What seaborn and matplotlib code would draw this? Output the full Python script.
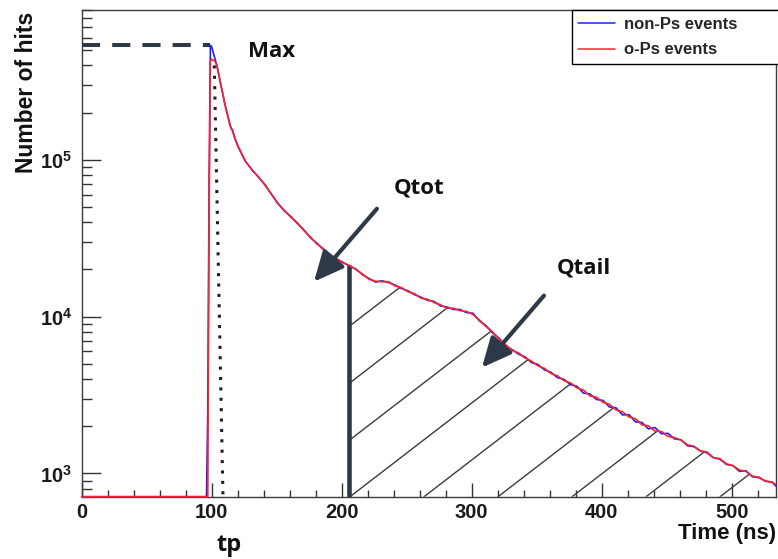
import numpy as np
import pandas as pd
import matplotlib
matplotlib.use("Agg")
import matplotlib.pyplot as plt
import matplotlib.transforms as mtransforms
from matplotlib.lines import Line2D
from matplotlib.ticker import LogLocator, NullFormatter, MultipleLocator
import seaborn as sns

# ---------------------------------------------------------------------------
# Data: hit-time spectra (counts per bin) for the two event classes
# ---------------------------------------------------------------------------
NONPS = "non-Ps events"
OPS = "o-Ps events"

# 1 ns bins over the prompt peak (t = 0 starts the empty pre-trigger region)
time_head = [0, 96, 97, 98, 99, 100, 101, 102, 103, 104, 105, 106, 107, 108,
             109, 110, 111, 112, 113, 114, 115, 116, 117, 118, 119, 120, 121]
nonps_head = [0, 0, 2500, 70800, 537000, 525000, 490000, 457000, 427000,
              398000, 363000, 331000, 302000, 275000, 251000, 229000, 212000,
              196000, 181000, 167000, 158000, 156000, 144000, 135000, 129000,
              123000, 118000]
ops_head = [0, 0, 0, 45000, 425000, 438000, 432000, 428000, 418000, 400000,
            366000, 334000, 300000, 278000, 254000, 231000, 210000, 198000,
            183000, 169000, 160000, 152000, 145000, 137000, 130000, 124000,
            119000]

# 5 ns bins along the slow tail
time_tail = list(range(126, 532, 5)) + [534]
nonps_tail = [97500, 86500, 77300, 69500, 60100, 52800, 47100, 43400, 39200, 35700,
              31800, 29400, 26700, 24900, 23300, 22200, 21000, 20100, 18500, 17500,
              16600, 16900, 16500, 15900, 15100, 14600, 13800, 13300, 12700, 12500,
              11700, 11500, 11100, 11100, 10600, 10500, 9380, 8760, 7880, 7300,
              6520, 6170, 5760, 5540, 5090, 4950, 4570, 4410, 4080, 3980,
              3680, 3590, 3250, 3210, 2960, 2920, 2650, 2620, 2360, 2370,
              2130, 2110, 1920, 1960, 1790, 1800, 1660, 1640, 1500, 1480,
              1390, 1350, 1260, 1230, 1140, 1120, 1030, 1040, 950, 940,
              890, 880, 830]
ops_tail = [98000, 86000, 77900, 69000, 60500, 52300, 47500, 43000, 39600, 35300,
            32200, 29000, 27100, 24700, 23500, 22000, 21200, 19900, 18700, 17300,
            16800, 16700, 16700, 15700, 15300, 14400, 14000, 13100, 12900, 12300,
            11900, 11300, 11300, 10900, 10800, 10300, 9500, 8650, 8000, 7180,
            6640, 6080, 5870, 5450, 5200, 4850, 4680, 4330, 4190, 3900,
            3780, 3510, 3400, 3120, 3060, 2840, 2760, 2540, 2470, 2290,
            2230, 2040, 2010, 1860, 1850, 1720, 1690, 1630, 1520, 1490,
            1390, 1370, 1260, 1240, 1150, 1120, 1050, 1030, 960, 945,
            895, 880, 850]

T_CUT = 206            # start of the Qtail integration window (ns)
TP_TOP = (102, 4.0e5)  # upper end of the peak-time marker
TP_BOTTOM_T = 108.7    # lower end of the peak-time marker (ns)

Y_MIN, Y_MAX = 710, 9.02e5
X_MIN, X_MAX = 0, 534.1

SLATE = "#2e3948"
BLUE = "#1f1fff"
RED = "#ff2424"

# ---------------------------------------------------------------------------
# Long-form table for seaborn
# ---------------------------------------------------------------------------
frames = []
for name, head, tail in [(NONPS, nonps_head, nonps_tail), (OPS, ops_head, ops_tail)]:
    frames.append(pd.DataFrame({"time": time_head + time_tail,
                                "hits": head + tail,
                                "kind": name}))
df = pd.concat(frames, ignore_index=True)
# empty bins sit on the lower edge of the log axis
df["shown"] = df["hits"].clip(lower=Y_MIN)

# ---------------------------------------------------------------------------
# Styling
# ---------------------------------------------------------------------------
sns.set_theme(style="ticks")
plt.rcParams.update({
    "font.family": ["Liberation Sans", "DejaVu Sans"],
    "font.weight": "bold",
    "axes.edgecolor": "#3a3a3a",
    "axes.linewidth": 1.0,
    "mathtext.fontset": "custom",
    "mathtext.rm": "Liberation Sans:bold",
    "mathtext.bf": "Liberation Sans:bold",
    "mathtext.it": "Liberation Sans:bold",
})
ANNOT_FONT = ["Open Sans", "DejaVu Sans"]

fig = plt.figure(figsize=(7.78, 5.59), dpi=100)
ax = fig.add_axes([0.10501, 0.11145, 0.89242, 0.87066])
ax.set_yscale("log")

sns.lineplot(data=df, x="time", y="shown", hue="kind", hue_order=[NONPS, OPS],
             palette={NONPS: BLUE, OPS: RED}, estimator=None, sort=False,
             lw=1.2, legend=False, ax=ax, clip_on=False, zorder=3)

# ---------------------------------------------------------------------------
# Qtail: hatched area under the o-Ps curve from T_CUT on
# ---------------------------------------------------------------------------
tail = df[(df["kind"] == OPS) & (df["time"] >= T_CUT)]
t_q = tail["time"].to_numpy()
h_q = tail["shown"].to_numpy()
fill = ax.fill_between(t_q, Y_MIN, h_q, facecolor="none", edgecolor="none",
                       lw=0, zorder=1)
clip_path = fill.get_paths()[0]

hatch_x0, hatch_step, hatch_slope = 0.0667, 0.1066, 1.0985
for k in range(-6, 11):
    x0 = hatch_x0 + k * hatch_step
    ln = Line2D([x0, x0 + 1.2], [0, hatch_slope * 1.2], transform=ax.transAxes,
                color="#3c3c3c", lw=1.0, zorder=1.5)
    ln.set_clip_path(clip_path, ax.transData)
    ax.add_line(ln)

ax.plot([T_CUT, T_CUT], [Y_MIN, h_q[0]], color=SLATE, lw=3.3,
        solid_capstyle="butt", zorder=2.6)

# ---------------------------------------------------------------------------
# Max level and peak time
# ---------------------------------------------------------------------------
nonps = df[df["kind"] == NONPS]
i_max = nonps["hits"].idxmax()
t_max, h_max = nonps.loc[i_max, "time"], nonps.loc[i_max, "hits"]
ax.plot([X_MIN, t_max], [h_max, h_max], color=SLATE, lw=2.9,
        dashes=(4.5, 3.0), dash_capstyle="butt", zorder=2.7)
ax.plot([TP_TOP[0], TP_BOTTOM_T], [TP_TOP[1], Y_MIN], color="#1e1e1e", lw=2.2,
        linestyle=(0, (1, 2.4)), dash_capstyle="butt", zorder=2.7)

# ---------------------------------------------------------------------------
# Annotations
# ---------------------------------------------------------------------------
txt_kw = dict(family=ANNOT_FONT, fontweight="bold", fontsize=16, color="#111111")
ax.text(146, 4.53e5, "Max", ha="center", va="baseline", **txt_kw)
ax.text(259.5, 6.07e4, "Qtot", ha="center", va="baseline", **txt_kw)
ax.text(386.4, 1.87e4, "Qtail", ha="center", va="baseline", **txt_kw)
blend = mtransforms.blended_transform_factory(ax.transData, ax.transAxes)
ax.text(113.5, -0.112, "tp", ha="center", va="baseline", transform=blend,
        clip_on=False, **dict(txt_kw, fontsize=17))

arrow_kw = dict(arrowstyle="-|>,head_length=0.9,head_width=0.42", color=SLATE,
                lw=3, shrinkA=0, shrinkB=0, mutation_scale=20)
ax.annotate("", xy=(178.7, 1.67e4), xytext=(227.1, 4.87e4), arrowprops=arrow_kw)
ax.annotate("", xy=(307.9, 4.73e3), xytext=(355.6, 1.36e4), arrowprops=arrow_kw)

# ---------------------------------------------------------------------------
# Axes
# ---------------------------------------------------------------------------
ax.set_xlim(X_MIN, X_MAX)
ax.set_ylim(Y_MIN, Y_MAX)
ax.xaxis.set_major_locator(MultipleLocator(100))
ax.xaxis.set_minor_locator(MultipleLocator(20))
ax.yaxis.set_major_locator(LogLocator(base=10, numticks=10))
ax.yaxis.set_minor_locator(LogLocator(base=10, subs=np.arange(2, 10), numticks=30))
ax.yaxis.set_minor_formatter(NullFormatter())

ax.tick_params(axis="x", which="major", direction="in", length=10, width=1.0,
               pad=4.5, labelsize=14.5, top=False, color="#333333",
               labelcolor="#1a1a1a")
ax.tick_params(axis="x", which="minor", direction="in", length=5, width=1.0,
               top=False, color="#333333")
ax.tick_params(axis="y", which="major", direction="in", length=13.5, width=1.0,
               pad=7, labelsize=14.5, right=False, color="#333333",
               labelcolor="#1a1a1a")
ax.tick_params(axis="y", which="minor", direction="in", length=7, width=1.0,
               right=False, color="#333333")

ax.set_ylabel("Number of hits", fontsize=16.5, fontweight="bold", color="#111111")
ax.yaxis.set_label_coords(-0.0802, 0.8305)
ax.yaxis.label.set_va("center")
ax.set_xlabel("Time (ns)", fontsize=16, fontweight="bold", color="#111111")
ax.xaxis.set_label_coords(1.0, -0.0766)
ax.xaxis.label.set_ha("right")
ax.xaxis.label.set_va("center")

for side in ["top", "right", "left", "bottom"]:
    ax.spines[side].set_visible(True)

handles = [Line2D([], [], color=BLUE, lw=1.1), Line2D([], [], color=RED, lw=1.1)]
leg = ax.legend(handles, [NONPS, OPS], loc="upper left",
                bbox_to_anchor=(0.7057, 0.887, 0.36, 0.113), mode="expand",
                borderaxespad=0, frameon=True, fancybox=False, edgecolor="black",
                framealpha=1, fontsize=12, handlelength=2.17, handletextpad=0.58,
                borderpad=0.4, labelspacing=0.64)
leg.get_frame().set_linewidth(1.0)
leg.set_zorder(5)

fig.savefig("out.png", dpi=100)
